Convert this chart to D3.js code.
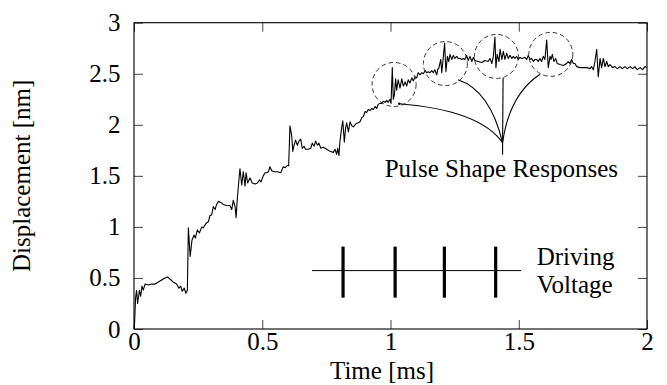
<!DOCTYPE html>
<html><head><meta charset="utf-8">
<script src="https://cdn.jsdelivr.net/npm/d3@7/dist/d3.min.js"></script>
<style>
body{margin:0;background:#fff;}
svg{display:block;}
</style></head><body>
<svg id="c" width="667" height="385"></svg>
<script>
// ---------- data ----------
const timeMs = [0.000,0.002,0.006,0.010,0.014,0.021,0.026,0.031,0.036,0.043,0.056,0.069,0.082,0.095,0.108,0.121,0.131,0.140,0.153,0.166,0.175,0.182,0.188,0.196,0.202,0.208,
0.212,0.219,0.226,0.234,0.239,0.247,0.255,0.264,0.270,0.277,0.283,0.290,0.296,0.303,0.309,0.316,0.322,0.329,0.338,0.348,0.361,0.374,0.381,0.387,0.394,0.398,0.403,
0.407,0.413,0.420,0.426,0.433,0.437,0.443,0.452,0.461,0.472,0.481,0.489,0.495,0.504,0.511,0.517,0.524,0.530,0.537,0.546,0.559,0.572,0.582,0.589,0.598,0.603,
0.608,0.615,0.619,0.624,0.630,0.637,0.643,0.650,0.656,0.663,0.669,0.680,0.689,0.695,0.702,0.708,0.715,0.721,0.728,0.738,0.751,0.764,0.777,0.784,0.790,0.794,0.799,
0.803,0.810,0.814,0.820,0.825,0.829,0.836,0.842,0.849,0.855,0.865,0.874,0.881,0.888,0.894,0.901,0.907,0.913,0.920,0.927,0.933,0.940,0.946,0.952,0.959,0.966,0.972,
0.979,0.985,0.991,0.998,1.002,1.007,1.011,1.015,1.020,1.024,1.030,1.037,1.044,1.050,1.057,1.063,1.069,1.076,1.083,1.089,1.096,1.102,1.108,1.115,1.122,1.128,1.135,
1.141,1.147,1.154,1.161,1.167,1.173,1.180,1.184,1.189,1.196,1.200,1.211,1.216,1.222,1.227,1.232,1.239,1.245,1.251,1.258,1.264,1.271,1.278,1.284,1.290,1.297,1.303,
1.310,1.317,1.323,1.329,1.342,1.356,1.368,1.381,1.388,1.395,1.401,1.407,1.411,1.416,1.423,1.427,1.434,1.440,1.446,1.453,1.459,1.466,1.473,1.479,1.485,1.492,1.498,
1.505,1.511,1.524,1.531,1.537,1.544,1.550,1.557,1.563,1.570,1.576,1.583,1.589,1.596,1.602,1.609,1.615,1.622,1.626,1.631,1.637,1.644,1.650,1.661,1.674,1.687,1.693,
1.700,1.706,1.713,1.719,1.726,1.739,1.752,1.765,1.778,1.784,1.791,1.797,1.804,1.810,1.817,1.823,1.830,1.836,1.843,1.849,1.856,1.866,1.875,1.884,1.895,1.904,1.914,
1.923,1.934,1.944,1.953,1.962,1.973,1.983,1.992,1.999];
const displacementNm = [0.00,0.05,0.30,0.38,0.25,0.38,0.32,0.42,0.38,0.44,0.43,0.44,0.44,0.46,0.48,0.50,0.51,0.49,0.46,0.44,0.40,0.42,0.37,0.40,0.35,0.38,
0.99,0.71,0.87,0.92,0.89,0.97,0.94,1.00,0.99,1.02,1.04,1.05,1.11,1.12,1.20,1.17,1.22,1.25,1.24,1.22,1.21,1.21,1.17,1.26,1.20,1.09,1.28,
1.40,1.57,1.41,1.54,1.40,1.53,1.43,1.48,1.43,1.42,1.43,1.46,1.44,1.50,1.53,1.53,1.54,1.59,1.55,1.54,1.54,1.53,1.59,1.58,1.60,1.60,
1.99,1.89,1.74,1.80,1.85,1.80,1.84,1.86,1.77,1.79,1.76,1.76,1.77,1.82,1.79,1.84,1.80,1.82,1.77,1.78,1.76,1.74,1.73,1.76,1.71,1.77,1.70,
1.84,1.98,2.04,1.83,1.97,2.02,1.93,2.03,1.99,1.98,2.01,2.02,2.03,2.07,2.08,2.13,2.12,2.15,2.14,2.16,2.15,2.18,2.16,2.20,2.21,2.21,2.23,
2.22,2.24,2.22,2.25,2.21,2.56,2.25,2.29,2.45,2.34,2.44,2.36,2.45,2.38,2.42,2.38,2.44,2.41,2.46,2.43,2.47,2.46,2.51,2.49,2.51,2.50,2.53,
2.51,2.52,2.51,2.53,2.51,2.54,2.49,2.54,2.56,2.64,2.51,2.80,2.52,2.67,2.62,2.69,2.64,2.68,2.65,2.67,2.65,2.65,2.64,2.65,2.64,2.68,2.63,
2.67,2.62,2.66,2.63,2.62,2.61,2.63,2.62,2.65,2.60,2.67,2.86,2.56,2.69,2.62,2.74,2.64,2.72,2.64,2.70,2.65,2.68,2.65,2.67,2.65,2.67,2.64,
2.66,2.65,2.66,2.64,2.68,2.64,2.65,2.62,2.64,2.64,2.62,2.65,2.62,2.67,2.64,2.83,2.56,2.67,2.64,2.69,2.62,2.65,2.60,2.59,2.58,2.60,2.62,
2.60,2.64,2.60,2.60,2.57,2.56,2.56,2.56,2.55,2.57,2.54,2.62,2.74,2.47,2.65,2.56,2.65,2.57,2.62,2.57,2.59,2.56,2.57,2.55,2.57,2.55,2.57,
2.55,2.57,2.55,2.57,2.54,2.56,2.54,2.57,2.56];

const xTicks = [0, 0.5, 1, 1.5, 2];
const xTickLabels = ["0", "0.5", "1", "1.5", "2"];
const yTicks = [0, 0.5, 1, 1.5, 2, 2.5, 3];
const yTickLabels = ["0", "0.5", "1", "1.5", "2", "2.5", "3"];

// driving voltage pulses (ms) and baseline extent
const pulseTimes = [0.815, 1.018, 1.210, 1.410];
const drivingLineT = [0.694, 1.510];
const drivingLevel = 0.572;
const pulseLow = 0.307, pulseHigh = 0.807;

// pulse-shape response circles (data units)
const circleT = [1.014, 1.214, 1.413, 1.625];
const circleV = [2.395, 2.600, 2.670, 2.690];

// leader curves (data units): start, control, common join
const leaderStartT = [1.034, 1.263, 1.439, 1.583];
const leaderStartV = [2.206, 2.441, 2.464, 2.495];
const leaderCtrlT  = [1.349, 1.388, 1.438, 1.463];
const leaderCtrlV  = [2.142, 2.338, 2.144, 2.296];
const joinT = 1.437, joinV = 1.824, stubV = 1.706;

const labelPulse = "Pulse Shape Responses";
const labelPulseT = 1.432, labelPulseV = 1.493;
const labelDrive = ["Driving", "Voltage"];
const labelDriveT = 1.570, labelDriveV = [0.627, 0.356];

// ---------- layout ----------
const FONT = "Liberation Serif";
const L = 134, R = 647, T = 22.7, B = 329;
const FS = 25;

const svg = d3.select("#c").attr("font-family", FONT);
const x = d3.scaleLinear().domain([0, 2]).range([L, R]);
const y = d3.scaleLinear().domain([0, 3]).range([B, T]);

const tickLen = 9;
const gx = svg.append("g").attr("transform", `translate(0,${B})`)
  .call(d3.axisBottom(x).tickValues(xTicks).tickFormat((d,i)=>xTickLabels[i])
        .tickSizeInner(-tickLen).tickSizeOuter(0).tickPadding(3.5));
const gy = svg.append("g").attr("transform", `translate(${L},0)`)
  .call(d3.axisLeft(y).tickValues(yTicks).tickFormat((d,i)=>yTickLabels[i])
        .tickSizeInner(-tickLen).tickSizeOuter(0).tickPadding(13.5));
const gt = svg.append("g").attr("transform", `translate(0,${T})`)
  .call(d3.axisTop(x).tickValues(xTicks).tickFormat("").tickSizeInner(-tickLen).tickSizeOuter(0));
const gr = svg.append("g").attr("transform", `translate(${R},0)`)
  .call(d3.axisRight(y).tickValues(yTicks).tickFormat("").tickSizeInner(-tickLen).tickSizeOuter(0));

[gx, gy, gt, gr].forEach(g => {
  g.attr("font-family", FONT).attr("font-size", FS);
  g.select(".domain").remove();
  g.selectAll(".tick line").attr("stroke", "#444").attr("stroke-width", 1);
  g.selectAll(".tick text").attr("font-family", FONT).attr("font-size", FS).attr("fill", "#000");
});

svg.append("rect").attr("x", L).attr("y", T).attr("width", R - L).attr("height", B - T)
  .attr("fill", "none").attr("stroke", "#000").attr("stroke-width", 1.1);

function txt(sel) { return sel.attr("font-family", FONT).attr("font-size", FS).attr("fill", "#000"); }

txt(svg.append("text")).attr("x", 382).attr("y", 379).attr("text-anchor", "middle").text("Time [ms]");
txt(svg.append("text")).attr("transform", `translate(30,${(T + B) / 2}) rotate(-90)`)
  .attr("text-anchor", "middle").text("Displacement [nm]");

const line = d3.line().x((d, i) => x(timeMs[i])).y((d, i) => y(displacementNm[i]));
svg.append("path").attr("d", line(displacementNm)).attr("fill", "none")
  .attr("stroke", "#000").attr("stroke-width", 1.1).attr("stroke-linejoin", "round");

svg.selectAll("circle.resp").data(circleT).enter().append("circle")
  .attr("class", "resp")
  .attr("cx", (d) => x(d)).attr("cy", (d, i) => y(circleV[i])).attr("r", 22)
  .attr("fill", "none").attr("stroke", "#333").attr("stroke-width", 1)
  .attr("stroke-dasharray", "4.5,3");

leaderStartT.forEach((t, i) => {
  const p = d3.path();
  p.moveTo(x(t), y(leaderStartV[i]));
  p.quadraticCurveTo(x(leaderCtrlT[i]), y(leaderCtrlV[i]), x(joinT), y(joinV));
  svg.append("path").attr("d", p.toString()).attr("fill", "none")
    .attr("stroke", "#000").attr("stroke-width", 1.1);
});
svg.append("line").attr("x1", x(joinT)).attr("x2", x(joinT))
  .attr("y1", y(joinV)).attr("y2", y(stubV)).attr("stroke", "#000").attr("stroke-width", 1.1);
svg.append("circle").attr("cx", x(leaderStartT[0])).attr("cy", y(leaderStartV[0])).attr("r", 1.3).attr("fill", "#000");

txt(svg.append("text")).attr("x", x(labelPulseT)).attr("y", y(labelPulseV)).attr("text-anchor", "middle").text(labelPulse);

svg.append("line").attr("x1", x(drivingLineT[0])).attr("x2", x(drivingLineT[1]))
  .attr("y1", y(drivingLevel)).attr("y2", y(drivingLevel)).attr("stroke", "#000").attr("stroke-width", 1);
svg.selectAll("line.pulse").data(pulseTimes).enter().append("line").attr("class", "pulse")
  .attr("x1", d => x(d)).attr("x2", d => x(d)).attr("y1", y(pulseLow)).attr("y2", y(pulseHigh))
  .attr("stroke", "#000").attr("stroke-width", 3.2);
labelDrive.forEach((s, i) => {
  txt(svg.append("text")).attr("x", x(labelDriveT)).attr("y", y(labelDriveV[i])).text(s);
});
</script>
</body></html>
